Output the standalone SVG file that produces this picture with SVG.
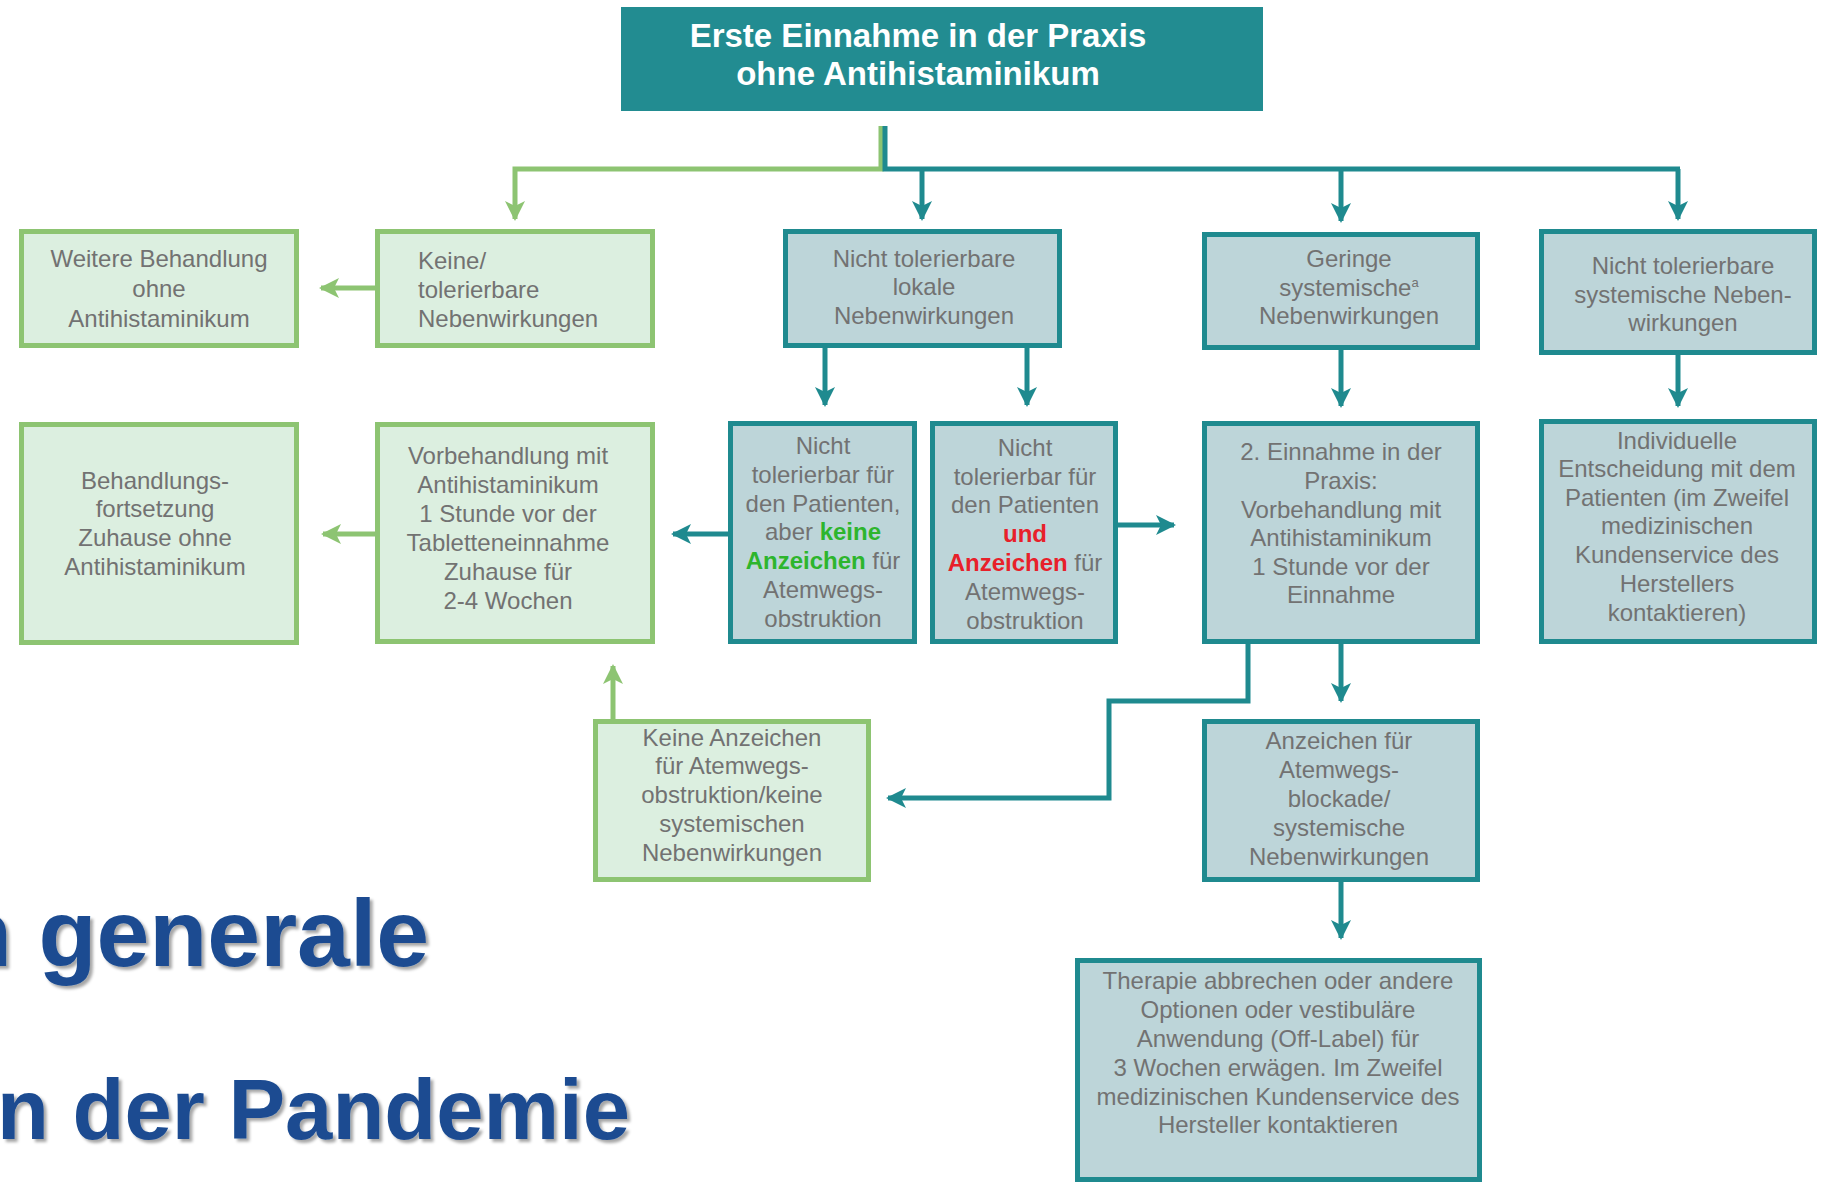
<svg xmlns="http://www.w3.org/2000/svg" width="1830" height="1182" viewBox="0 0 1830 1182">
<style>
.g rect{fill:#dcefe0;stroke:#8dc472;stroke-width:5}
.t rect{fill:#bdd5d9;stroke:#1f8a8f;stroke-width:5}
text{font-family:"Liberation Sans",Arial,sans-serif}
.l{font-size:24px;fill:#727272;text-anchor:middle}
.ll{font-size:24px;fill:#727272;text-anchor:start}
.hg{fill:#2db52d;font-weight:bold}
.hr{fill:#e8202a;font-weight:bold}
.title{font-size:33px;fill:#ffffff;font-weight:bold;text-anchor:middle}
.big{font-weight:bold;fill:#1c4c91}
.cg{fill:none;stroke:#8dc472;stroke-width:5}
.ct{fill:none;stroke:#1f8a8f;stroke-width:5}
</style>
<defs>
<marker id="ag" viewBox="0 0 10 10" refX="9" refY="5" markerUnits="userSpaceOnUse" markerWidth="22" markerHeight="20" orient="auto">
<path d="M0,0 L10,5 L0,10 L2.5,5 z" fill="#8dc472"/>
</marker>
<marker id="at" viewBox="0 0 10 10" refX="9" refY="5" markerUnits="userSpaceOnUse" markerWidth="22" markerHeight="20" orient="auto">
<path d="M0,0 L10,5 L0,10 L2.5,5 z" fill="#1f8a8f"/>
</marker>
<filter id="sh" x="-5%" y="-20%" width="115%" height="150%">
<feDropShadow dx="3" dy="3" stdDeviation="1.5" flood-color="#000" flood-opacity="0.35"/>
</filter>
</defs>
<rect x="0" y="0" width="1830" height="1182" fill="#ffffff"/>

<g id="connectors">
<path class="cg" d="M881,126 V169 H515 V219" marker-end="url(#ag)"/>
<path class="ct" d="M885,126 V169 H1680"/>
<path class="ct" d="M922,169 V219" marker-end="url(#at)"/>
<path class="ct" d="M1341,169 V221" marker-end="url(#at)"/>
<path class="ct" d="M1678,169 V219" marker-end="url(#at)"/>
<path class="cg" d="M375,288 H321" marker-end="url(#ag)"/>
<path class="ct" d="M825,348 V405" marker-end="url(#at)"/>
<path class="ct" d="M1027,348 V405" marker-end="url(#at)"/>
<path class="ct" d="M1341,350 V406" marker-end="url(#at)"/>
<path class="ct" d="M1678,355 V406" marker-end="url(#at)"/>
<path class="cg" d="M375,534 H323" marker-end="url(#ag)"/>
<path class="ct" d="M728,534 H673" marker-end="url(#at)"/>
<path class="ct" d="M1118,525 H1174" marker-end="url(#at)"/>
<path class="cg" d="M613,719 V666" marker-end="url(#ag)"/>
<path class="ct" d="M1341,644 V701" marker-end="url(#at)"/>
<path class="ct" d="M1248,644 V701 H1109 V798 H888" marker-end="url(#at)"/>
<path class="ct" d="M1341,882 V938" marker-end="url(#at)"/>
</g>

<g id="start">
<rect x="621" y="7" width="642" height="104" fill="#228c91"/>
<text class="title" x="918" y="47">Erste Einnahme in der Praxis</text>
<text class="title" x="918" y="85">ohne Antihistaminikum</text>
</g>

<g id="weitere" class="g">
<rect x="21.5" y="231.5" width="275" height="114"/>
<text class="l" x="159" y="267">Weitere Behandlung</text>
<text class="l" x="159" y="297">ohne</text>
<text class="l" x="159" y="327">Antihistaminikum</text>
</g>

<g id="keine" class="g">
<rect x="377.5" y="231.5" width="275" height="114"/>
<text class="ll" x="418" y="269">Keine/</text>
<text class="ll" x="418" y="298">tolerierbare</text>
<text class="ll" x="418" y="327">Nebenwirkungen</text>
</g>

<g id="lokal" class="t">
<rect x="785.5" y="231.5" width="274" height="114"/>
<text class="l" x="924" y="267">Nicht tolerierbare</text>
<text class="l" x="924" y="295">lokale</text>
<text class="l" x="924" y="324">Nebenwirkungen</text>
</g>

<g id="geringe" class="t">
<rect x="1204.5" y="234.5" width="273" height="113"/>
<text class="l" x="1349" y="267">Geringe</text>
<text class="l" x="1349" y="296">systemische<tspan font-size="13" dy="-9">a</tspan></text>
<text class="l" x="1349" y="324">Nebenwirkungen</text>
</g>

<g id="systemisch" class="t">
<rect x="1541.5" y="231.5" width="273" height="121"/>
<text class="l" x="1683" y="274">Nicht tolerierbare</text>
<text class="l" x="1683" y="303">systemische Neben-</text>
<text class="l" x="1683" y="331">wirkungen</text>
</g>

<g id="fortsetzung" class="g">
<rect x="21.5" y="424.5" width="275" height="218"/>
<text class="l" x="155" y="489">Behandlungs-</text>
<text class="l" x="155" y="517">fortsetzung</text>
<text class="l" x="155" y="546">Zuhause ohne</text>
<text class="l" x="155" y="575">Antihistaminikum</text>
</g>

<g id="vorbehandlung" class="g">
<rect x="377.5" y="424.5" width="275" height="217"/>
<text class="l" x="508" y="464">Vorbehandlung mit</text>
<text class="l" x="508" y="493">Antihistaminikum</text>
<text class="l" x="508" y="522">1 Stunde vor der</text>
<text class="l" x="508" y="551">Tabletteneinnahme</text>
<text class="l" x="508" y="580">Zuhause für</text>
<text class="l" x="508" y="609">2-4 Wochen</text>
</g>

<g id="nicht-keine" class="t">
<rect x="730.5" y="423.5" width="184" height="218"/>
<text class="l" x="823" y="454">Nicht</text>
<text class="l" x="823" y="483">tolerierbar für</text>
<text class="l" x="823" y="512">den Patienten,</text>
<text class="l" x="823" y="540">aber <tspan class="hg">keine</tspan></text>
<text class="l" x="823" y="569"><tspan class="hg">Anzeichen</tspan> für</text>
<text class="l" x="823" y="598">Atemwegs-</text>
<text class="l" x="823" y="627">obstruktion</text>
</g>

<g id="nicht-und" class="t">
<rect x="932.5" y="423.5" width="183" height="218"/>
<text class="l" x="1025" y="456">Nicht</text>
<text class="l" x="1025" y="485">tolerierbar für</text>
<text class="l" x="1025" y="513">den Patienten</text>
<text class="l" x="1025" y="542"><tspan class="hr">und</tspan></text>
<text class="l" x="1025" y="571"><tspan class="hr">Anzeichen</tspan> für</text>
<text class="l" x="1025" y="600">Atemwegs-</text>
<text class="l" x="1025" y="629">obstruktion</text>
</g>

<g id="zweite" class="t">
<rect x="1204.5" y="423.5" width="273" height="218"/>
<text class="l" x="1341" y="460">2. Einnahme in der</text>
<text class="l" x="1341" y="489">Praxis:</text>
<text class="l" x="1341" y="518">Vorbehandlung mit</text>
<text class="l" x="1341" y="546">Antihistaminikum</text>
<text class="l" x="1341" y="575">1 Stunde vor der</text>
<text class="l" x="1341" y="603">Einnahme</text>
</g>

<g id="individuell" class="t">
<rect x="1541.5" y="421.5" width="273" height="220"/>
<text class="l" x="1677" y="449">Individuelle</text>
<text class="l" x="1677" y="477">Entscheidung mit dem</text>
<text class="l" x="1677" y="506">Patienten (im Zweifel</text>
<text class="l" x="1677" y="534">medizinischen</text>
<text class="l" x="1677" y="563">Kundenservice des</text>
<text class="l" x="1677" y="592">Herstellers</text>
<text class="l" x="1677" y="621">kontaktieren)</text>
</g>

<g id="keine-anzeichen" class="g">
<rect x="595.5" y="721.5" width="273" height="158"/>
<text class="l" x="732" y="746">Keine Anzeichen</text>
<text class="l" x="732" y="774">für Atemwegs-</text>
<text class="l" x="732" y="803">obstruktion/keine</text>
<text class="l" x="732" y="832">systemischen</text>
<text class="l" x="732" y="861">Nebenwirkungen</text>
</g>

<g id="anzeichen" class="t">
<rect x="1204.5" y="721.5" width="273" height="158"/>
<text class="l" x="1339" y="749">Anzeichen für</text>
<text class="l" x="1339" y="778">Atemwegs-</text>
<text class="l" x="1339" y="807">blockade/</text>
<text class="l" x="1339" y="836">systemische</text>
<text class="l" x="1339" y="865">Nebenwirkungen</text>
</g>

<g id="therapie" class="t">
<rect x="1077.5" y="960.5" width="402" height="219"/>
<text class="l" x="1278" y="989">Therapie abbrechen oder andere</text>
<text class="l" x="1278" y="1018">Optionen oder vestibuläre</text>
<text class="l" x="1278" y="1047">Anwendung (Off-Label) für</text>
<text class="l" x="1278" y="1076">3 Wochen erwägen. Im Zweifel</text>
<text class="l" x="1278" y="1105">medizinischen Kundenservice des</text>
<text class="l" x="1278" y="1133">Hersteller kontaktieren</text>
</g>

<g id="overlay-text" filter="url(#sh)">
<text class="big" x="-46" y="966" font-size="95">n generale</text>
<text class="big" x="-3" y="1139" font-size="85">n der Pandemie</text>
</g>
</svg>
